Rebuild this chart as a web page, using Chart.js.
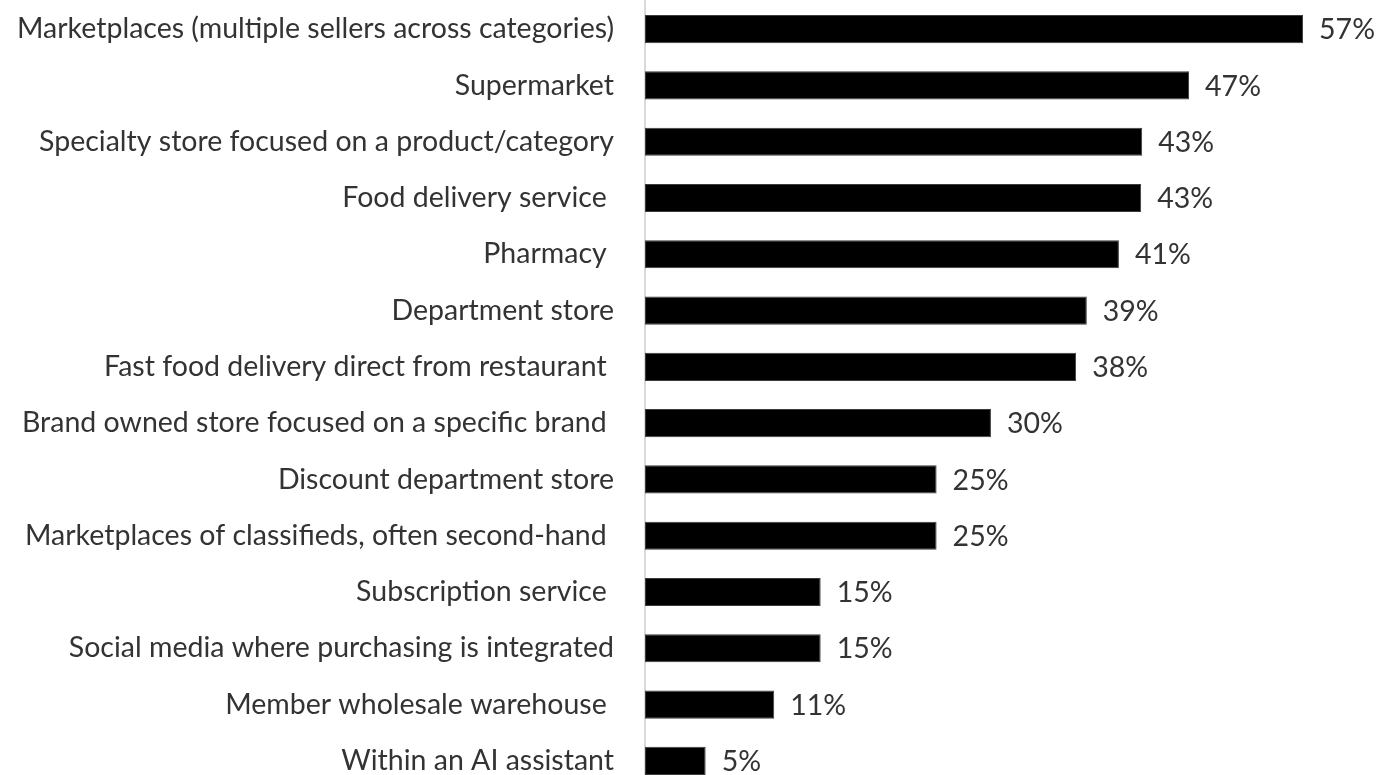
<!DOCTYPE html>
<html>
<head>
<meta charset="utf-8">
<title>Where people shop online</title>
<script src="https://cdn.jsdelivr.net/npm/chart.js@4.4.1/dist/chart.umd.min.js"></script>
<style>
  html, body { margin: 0; padding: 0; background: #ffffff; overflow: hidden; }
  #wrap { position: relative; width: 1384px; height: 790px; }
</style>
</head>
<body>
<div id="wrap"><canvas id="chart" width="1384" height="790"></canvas></div>
<script>
// Shopping channels (label text kept exactly as written, including trailing spaces)
const categories = [
  'Marketplaces (multiple sellers across categories)',
  'Supermarket',
  'Specialty store focused on a product/category',
  'Food delivery service ',
  'Pharmacy ',
  'Department store',
  'Fast food delivery direct from restaurant ',
  'Brand owned store focused on a specific brand ',
  'Discount department store',
  'Marketplaces of classifieds, often second-hand ',
  'Subscription service ',
  'Social media where purchasing is integrated',
  'Member wholesale warehouse ',
  'Within an AI assistant'
];

// Share of respondents (%)
const shares = [57.39, 47.45, 43.36, 43.27, 41.33, 38.53, 37.6, 30.17, 25.43, 25.43, 15.32, 15.32, 11.27, 5.29];

const xMax = 60;
const FONT = 'Lato, "Open Sans", sans-serif';
const FONT_SIZE = 28.5;
const TEXT_COLOR = '#333333';

// Percent labels printed just past the end of each bar
const valueLabels = {
  id: 'valueLabels',
  afterDatasetsDraw(chart) {
    const ctx = chart.ctx;
    const meta = chart.getDatasetMeta(0);
    const data = chart.data.datasets[0].data;
    ctx.save();
    ctx.font = FONT_SIZE + 'px ' + FONT;
    ctx.fillStyle = TEXT_COLOR;
    ctx.textAlign = 'left';
    ctx.textBaseline = 'middle';
    meta.data.forEach((bar, i) => {
      ctx.fillText(Math.round(data[i]) + '%', bar.x + 16, bar.y + 1);
    });
    ctx.restore();
  }
};

new Chart(document.getElementById('chart'), {
  type: 'bar',
  data: {
    labels: categories,
    datasets: [{
      data: shares,
      backgroundColor: '#000000',
      borderColor: '#3c3c3c',
      borderWidth: 1,
      borderSkipped: false,
      categoryPercentage: 1,
      barPercentage: 0.5
    }]
  },
  options: {
    indexAxis: 'y',
    responsive: false,
    animation: false,
    events: [],
    layout: { padding: { top: 1, right: 51, bottom: 1, left: 0 } },
    plugins: {
      legend: { display: false },
      tooltip: { enabled: false }
    },
    scales: {
      x: {
        display: false,
        min: 0,
        max: xMax
      },
      y: {
        grid: { display: false, drawTicks: false },
        border: { display: true, color: '#d9d9d9', width: 2 },
        ticks: {
          padding: 31,
          color: TEXT_COLOR,
          font: { family: FONT, size: FONT_SIZE }
        },
        afterFit(scale) {
          // fixed label column; no extra room above/below the rows
          scale.width = 645;
          scale.paddingTop = 0;
          scale.paddingBottom = 0;
        }
      }
    }
  },
  plugins: [valueLabels]
});
</script>
</body>
</html>
